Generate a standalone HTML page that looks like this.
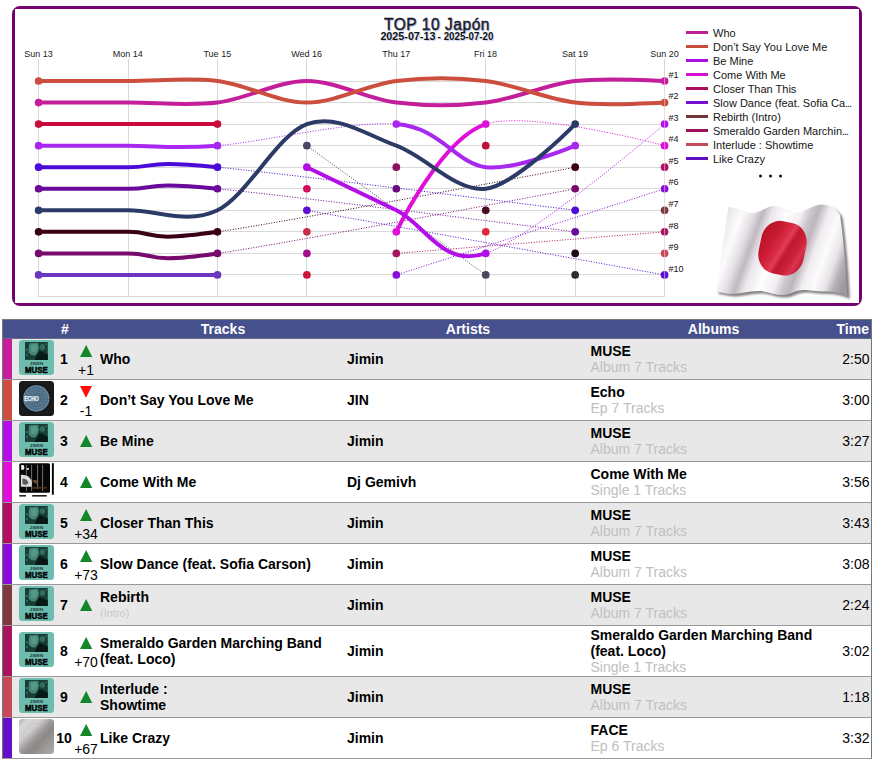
<!DOCTYPE html>
<html><head><meta charset="utf-8">
<style>
*{box-sizing:border-box}
html,body{margin:0;padding:0;background:#fff}
body{width:877px;height:767px;position:relative;overflow:hidden;font-family:"Liberation Sans",sans-serif;color:#000}
.abs{position:absolute}
svg{position:absolute;left:0;top:0;overflow:visible}
.lg{position:absolute;left:686px;font-size:11px;line-height:14px;color:#151515;white-space:nowrap}
.lg i{position:absolute;left:0;top:6px;width:22px;height:3px}
.lg span{position:absolute;left:27px;top:0.7px}
#tbl{position:absolute;left:2px;top:319px;width:870px;height:440px;border:1px solid #777;border-bottom:none}
#th{position:absolute;left:0;top:0;width:868px;height:19px;background:#45508c;border-bottom:1px solid #6a6a80;color:#fff;font-weight:bold;font-size:14px;line-height:18px}
#th div{position:absolute;top:0}
.row{position:absolute;left:0;width:868px;border-bottom:1px solid #999}
.row.g{background:#e8e8e8}
.row.w{background:#fff}
.st{position:absolute;left:0;top:0;bottom:0;width:9px}
.cv{position:absolute;left:16px;top:1px;width:35px;height:35px}
.rk{position:absolute;left:48.5px;width:25px;text-align:center;font-weight:bold;font-size:14px;line-height:16px}
.dl{position:absolute;left:68px;width:30px;text-align:center;font-size:14px;line-height:16px}
.tr{position:absolute;left:97px;font-weight:bold;font-size:14px;line-height:16px}
.ar{position:absolute;left:344px;font-weight:bold;font-size:14px;line-height:16px}
.al{position:absolute;left:587.5px;font-weight:bold;font-size:14px;line-height:16px}
.al span{font-weight:normal;color:#c0c0c0}
.tm{position:absolute;right:1.5px;font-size:14px;line-height:16px}
.sm{font-weight:normal;color:#c8c8c8;font-size:11px;line-height:16px}
</style></head>
<body>
<svg width="877" height="310" viewBox="0 0 877 310">
<path fill-rule="evenodd" fill="#720070" d="M20 6H854A8 8 0 0 1 862 14V298A8 8 0 0 1 854 306H20A8 8 0 0 1 12 298V14A8 8 0 0 1 20 6ZM15 9V303H859V9Z"/>
<path d="M38.5 59V297 M128.5 59V297 M217.5 59V297 M306.5 59V297 M396.5 59V297 M485.5 59V297 M575.5 59V297 M664.5 59V297 M38 81.5H665 M38 102.5H665 M38 124.5H665 M38 145.5H665 M38 167.5H665 M38 188.5H665 M38 210.5H665 M38 231.5H665 M38 253.5H665 M38 274.5H665 M38 296.5H665" stroke="#d9d9d9" stroke-width="1" fill="none"/>
<g fill="none" stroke-width="1" stroke-dasharray="1 1.6"><path d="M217.46 167.2C291.99 174.38 575.18 210.3 575.18 210.3" stroke="#4a0ad8"/><path d="M217.46 188.75C291.99 195.93 575.18 231.85 575.18 231.85" stroke="#6a0a9c"/><path d="M217.46 231.85C291.99 221.07 575.18 167.2 575.18 167.2" stroke="#3a0018"/><path d="M217.46 253.4C291.99 242.62 575.18 188.75 575.18 188.75" stroke="#780a6e"/><path d="M306.89 145.65C306.89 145.65 485.75 274.95 485.75 274.95" stroke="#4a4560"/><path d="M306.89 210.3C306.89 210.3 664.61 274.95 664.61 274.95" stroke="#5a10d0"/><path d="M396.32 253.4C396.32 253.4 664.61 231.85 664.61 231.85" stroke="#a8145e"/><path d="M396.32 274.95C396.32 274.95 664.61 188.75 664.61 188.75" stroke="#8a0ed8"/><path d="M485.75 124.1C530.47 109.73 664.61 145.65 664.61 145.65" stroke="#e00fd8"/><path d="M485.75 253.4C530.47 239.03 664.61 124.1 664.61 124.1" stroke="#b30ee8"/><path d="M217.46 145.65C262.18 142.06 351.61 120.51 396.32 124.1" stroke="#a828f0"/></g>
<g fill="none" stroke-width="4"><path d="M38.6 102.55C38.6 102.55 98.22 102.55 128.03 102.55C157.84 102.55 187.65 106.14 217.46 102.55C247.27 98.96 277.08 81 306.89 81C336.7 81 366.51 98.96 396.32 102.55C426.13 106.14 455.94 106.14 485.75 102.55C515.56 98.96 545.37 84.59 575.18 81C604.99 77.41 664.61 81 664.61 81" stroke="#c41e9a"/><path d="M38.6 81C38.6 81 98.22 81 128.03 81C157.84 81 187.65 77.41 217.46 81C247.27 84.59 277.08 102.55 306.89 102.55C336.7 102.55 366.51 84.59 396.32 81C426.13 77.41 455.94 77.41 485.75 81C515.56 84.59 545.37 98.96 575.18 102.55C604.99 106.14 664.61 102.55 664.61 102.55" stroke="#cc4e3e"/><path d="M38.6 124.1C38.6 124.1 98.22 124.1 128.03 124.1C157.84 124.1 217.46 124.1 217.46 124.1" stroke="#c80a3c"/><path d="M38.6 167.2C38.6 167.2 98.22 167.2 128.03 167.2C157.84 167.2 142.94 160.02 217.46 167.2" stroke="#4a0ad8"/><path d="M38.6 188.75C38.6 188.75 98.22 188.75 128.03 188.75C157.84 188.75 142.94 181.57 217.46 188.75" stroke="#6a0a9c"/><path d="M38.6 231.85C38.6 231.85 98.22 231.85 128.03 231.85C157.84 231.85 142.94 242.62 217.46 231.85" stroke="#3a0018"/><path d="M38.6 253.4C38.6 253.4 98.22 253.4 128.03 253.4C157.84 253.4 142.94 264.18 217.46 253.4" stroke="#780a6e"/><path d="M38.6 274.95C38.6 274.95 98.22 274.95 128.03 274.95C157.84 274.95 217.46 274.95 217.46 274.95" stroke="#6a38c0"/><path d="M396.32 231.85C396.32 231.85 441.04 138.47 485.75 124.1" stroke="#e00fd8"/><path d="M306.89 167.2C306.89 167.2 366.51 195.93 396.32 210.3C426.13 224.67 441.04 267.77 485.75 253.4" stroke="#b30ee8"/><path d="M38.6 145.65C38.6 145.65 98.22 145.65 128.03 145.65C157.84 145.65 172.75 149.24 217.46 145.65" stroke="#a828f0"/><path d="M396.32 124.1C441.04 127.69 455.94 163.61 485.75 167.2C515.56 170.79 575.18 145.65 575.18 145.65" stroke="#a828f0"/><path d="M38.6 210.3C38.6 210.3 98.22 210.3 128.03 210.3C157.84 210.3 187.65 224.67 217.46 210.3C247.27 195.93 277.08 134.88 306.89 124.1C336.7 113.32 366.51 134.88 396.32 145.65C426.13 156.43 455.94 192.34 485.75 188.75C515.56 185.16 575.18 124.1 575.18 124.1" stroke="#2c3a68"/></g>
<g><circle cx="38.6" cy="102.55" r="3.85" fill="#c41e9a"/><circle cx="664.61" cy="81" r="3.85" fill="#c41e9a"/><circle cx="38.6" cy="81" r="3.85" fill="#cc4e3e"/><circle cx="664.61" cy="102.55" r="3.85" fill="#cc4e3e"/><circle cx="38.6" cy="124.1" r="3.85" fill="#c80a3c"/><circle cx="217.46" cy="124.1" r="3.85" fill="#c80a3c"/><circle cx="38.6" cy="167.2" r="3.85" fill="#4a0ad8"/><circle cx="217.46" cy="167.2" r="3.85" fill="#4a0ad8"/><circle cx="575.18" cy="210.3" r="3.85" fill="#4a0ad8"/><circle cx="38.6" cy="188.75" r="3.85" fill="#6a0a9c"/><circle cx="217.46" cy="188.75" r="3.85" fill="#6a0a9c"/><circle cx="575.18" cy="231.85" r="3.85" fill="#6a0a9c"/><circle cx="38.6" cy="231.85" r="3.85" fill="#3a0018"/><circle cx="217.46" cy="231.85" r="3.85" fill="#3a0018"/><circle cx="575.18" cy="167.2" r="3.85" fill="#3a0018"/><circle cx="38.6" cy="253.4" r="3.85" fill="#780a6e"/><circle cx="217.46" cy="253.4" r="3.85" fill="#780a6e"/><circle cx="575.18" cy="188.75" r="3.85" fill="#780a6e"/><circle cx="38.6" cy="274.95" r="3.85" fill="#6a38c0"/><circle cx="217.46" cy="274.95" r="3.85" fill="#6a38c0"/><circle cx="306.89" cy="145.65" r="3.85" fill="#4a4560"/><circle cx="485.75" cy="274.95" r="3.85" fill="#4a4560"/><circle cx="306.89" cy="188.75" r="3.85" fill="#d0105a"/><circle cx="306.89" cy="210.3" r="3.85" fill="#5a10d0"/><circle cx="664.61" cy="274.95" r="3.85" fill="#5a10d0"/><circle cx="306.89" cy="231.85" r="3.85" fill="#c8304a"/><circle cx="306.89" cy="253.4" r="3.85" fill="#a0108a"/><circle cx="306.89" cy="274.95" r="3.85" fill="#c8183a"/><circle cx="396.32" cy="167.2" r="3.85" fill="#8b1060"/><circle cx="396.32" cy="188.75" r="3.85" fill="#6a0a80"/><circle cx="396.32" cy="253.4" r="3.85" fill="#a8145e"/><circle cx="664.61" cy="231.85" r="3.85" fill="#a8145e"/><circle cx="396.32" cy="274.95" r="3.85" fill="#8a0ed8"/><circle cx="664.61" cy="188.75" r="3.85" fill="#8a0ed8"/><circle cx="485.75" cy="145.65" r="3.85" fill="#c0103a"/><circle cx="485.75" cy="210.3" r="3.85" fill="#4a0a20"/><circle cx="485.75" cy="231.85" r="3.85" fill="#e02a3a"/><circle cx="575.18" cy="253.4" r="3.85" fill="#1e0a18"/><circle cx="575.18" cy="274.95" r="3.85" fill="#2a302a"/><circle cx="664.61" cy="167.2" r="3.85" fill="#b40e62"/><circle cx="664.61" cy="210.3" r="3.85" fill="#7e3a3e"/><circle cx="664.61" cy="253.4" r="3.85" fill="#c84a5a"/><circle cx="396.32" cy="231.85" r="3.85" fill="#e00fd8"/><circle cx="485.75" cy="124.1" r="3.85" fill="#e00fd8"/><circle cx="664.61" cy="145.65" r="3.85" fill="#e00fd8"/><circle cx="306.89" cy="167.2" r="3.85" fill="#b30ee8"/><circle cx="485.75" cy="253.4" r="3.85" fill="#b30ee8"/><circle cx="664.61" cy="124.1" r="3.85" fill="#b30ee8"/><circle cx="38.6" cy="145.65" r="3.85" fill="#a828f0"/><circle cx="217.46" cy="145.65" r="3.85" fill="#a828f0"/><circle cx="396.32" cy="124.1" r="3.85" fill="#a828f0"/><circle cx="575.18" cy="145.65" r="3.85" fill="#a828f0"/><circle cx="38.6" cy="210.3" r="3.85" fill="#2c3a68"/><circle cx="575.18" cy="124.1" r="3.85" fill="#2c3a68"/></g>
<path d="M664.61 77V280" stroke="#f4e8f0" stroke-width="0.8" opacity="0.7"/>
<g font-size="9" fill="#222" text-anchor="middle">
<text x="38.4" y="56.6">Sun 13</text><text x="127.8" y="56.6">Mon 14</text><text x="217.3" y="56.6">Tue 15</text><text x="306.7" y="56.6">Wed 16</text><text x="396.2" y="56.6">Thu 17</text><text x="485.6" y="56.6">Fri 18</text><text x="575" y="56.6">Sat 19</text><text x="664.5" y="56.6">Sun 20</text>
</g>
<g font-size="9" fill="#111">
<text x="668.6" y="77.7">#1</text><text x="668.6" y="99.2">#2</text><text x="668.6" y="120.8">#3</text><text x="668.6" y="142.3">#4</text><text x="668.6" y="163.9">#5</text><text x="668.6" y="185.4">#6</text><text x="668.6" y="207">#7</text><text x="668.6" y="228.5">#8</text><text x="668.6" y="250.1">#9</text><text x="668.6" y="271.6">#10</text>
</g>
<g fill="#111" style="text-shadow:1px 1px 1px rgba(110,140,220,.45)">
<text x="384" y="29.9" font-size="15.6" stroke="#111" stroke-width="0.4" textLength="105.5" lengthAdjust="spacing">TOP 10 Japón</text>
<g font-size="10" font-weight="bold"><text x="380.4" y="40" textLength="55" lengthAdjust="spacingAndGlyphs">2025-07-13</text><text x="437.6" y="40">-</text><text x="443.7" y="40" textLength="49.7" lengthAdjust="spacingAndGlyphs">2025-07-20</text></g>
</g>
<g fill="#111"><circle cx="760.5" cy="176" r="1.5"/><circle cx="770.5" cy="176" r="1.5"/><circle cx="780.5" cy="176" r="1.5"/></g>
<defs>
<linearGradient id="fw" x1="712" y1="0" x2="852" y2="0" gradientUnits="userSpaceOnUse" gradientTransform="rotate(20 780 250)">
<stop offset="0" stop-color="#d2ccd2"/><stop offset=".06" stop-color="#eee9ee"/><stop offset=".14" stop-color="#fcfcfc"/><stop offset=".22" stop-color="#e4dee4"/><stop offset=".28" stop-color="#bfb8bf"/><stop offset=".34" stop-color="#ebe6eb"/><stop offset=".44" stop-color="#fefefe"/><stop offset=".54" stop-color="#f2eef2"/><stop offset=".6" stop-color="#ccc5cc"/><stop offset=".65" stop-color="#bcb5bc"/><stop offset=".72" stop-color="#f0ecf0"/><stop offset=".8" stop-color="#fcfcfc"/><stop offset=".88" stop-color="#e8e3e8"/><stop offset=".94" stop-color="#b6b0b6"/><stop offset="1" stop-color="#9e989e"/>
</linearGradient>
<linearGradient id="fr" x1="756" y1="0" x2="808" y2="0" gradientUnits="userSpaceOnUse" gradientTransform="rotate(20 780 250)">
<stop offset="0" stop-color="#b81428"/><stop offset=".25" stop-color="#c81a32"/><stop offset=".42" stop-color="#d82a44"/><stop offset=".5" stop-color="#e23c56"/><stop offset=".6" stop-color="#c01830"/><stop offset=".75" stop-color="#cc2038"/><stop offset=".86" stop-color="#da3450"/><stop offset="1" stop-color="#bc162e"/>
</linearGradient>
<filter id="fsh" x="-10%" y="-10%" width="130%" height="130%"><feGaussianBlur stdDeviation="1.3"/></filter>
</defs>
<path transform="translate(2.6 2.4)" d="M728.4 206.9C737 208 744 213 751 213C760 213 767 206 774 206C782 206 787 213 795 213C803 213 812 205 821 204.5C830 204.5 836 208 840 215C843 235 846 265 847.3 296.3C840 293 833 291.5 825 291.5C815 291.5 810 290 804 290C795 290 790 295 783 295C772 295 768 291 759 291C748 291 741 294 732 294C726 294 720 292 716 291.7Z" fill="#555" opacity=".75" filter="url(#fsh)"/>
<path d="M728.4 206.9C737 208 744 213 751 213C760 213 767 206 774 206C782 206 787 213 795 213C803 213 812 205 821 204.5C830 204.5 836 208 840 215C843 235 846 265 847.3 296.3C840 293 833 291.5 825 291.5C815 291.5 810 290 804 290C795 290 790 295 783 295C772 295 768 291 759 291C748 291 741 294 732 294C726 294 720 292 716 291.7Z" fill="url(#fw)"/>
<rect x="759.6" y="221.6" width="45.8" height="53.2" rx="18" ry="20" transform="rotate(12 782.5 248.2)" fill="url(#fr)"/>
</svg>
<div class="lg" style="top:25px"><i style="background:#bc1e96"></i><span>Who</span></div>
<div class="lg" style="top:39px"><i style="background:#c64c3e"></i><span>Don’t Say You Love Me</span></div>
<div class="lg" style="top:53px"><i style="background:#a80ee0"></i><span>Be Mine</span></div>
<div class="lg" style="top:67px"><i style="background:#d60fd2"></i><span>Come With Me</span></div>
<div class="lg" style="top:81px"><i style="background:#a80e5e"></i><span>Closer Than This</span></div>
<div class="lg" style="top:95px"><i style="background:#7a0ed0"></i><span>Slow Dance (feat. Sofia Ca<b style="font-weight:normal;letter-spacing:-1.1px">...</b></span></div>
<div class="lg" style="top:109px"><i style="background:#74343a"></i><span>Rebirth (Intro)</span></div>
<div class="lg" style="top:123px"><i style="background:#9c125a"></i><span>Smeraldo Garden Marchin<b style="font-weight:normal;letter-spacing:-1.1px">...</b></span></div>
<div class="lg" style="top:137px"><i style="background:#c24a5c"></i><span>Interlude : Showtime</span></div>
<div class="lg" style="top:151px"><i style="background:#5e10c0"></i><span>Like Crazy</span></div>

<div id="tbl">
<div id="th">
<div style="left:52px;width:20px;text-align:center">#</div>
<div style="left:97px;width:246px;text-align:center">Tracks</div>
<div style="left:343px;width:244px;text-align:center">Artists</div>
<div style="left:587px;width:247px;text-align:center">Albums</div>
<div style="right:2px">Time</div>
</div>
<div class="row g" style="top:19px;height:41px"><div class="st" style="background:#c41e9a"></div><svg class="cv" style="top:1px" width="35" height="35" viewBox="0 0 35 35"><rect width="35" height="35" rx="3.5" fill="#6cbdaf"/><rect x="6" y="2" width="22.8" height="17.9" fill="#173d35"/><path d="M10.5 3.2L19 2.8L20.2 7.5L18.8 12L16.2 15.5L12.5 15.2L9.6 12.2L9.8 6.5z" fill="#4d9282" opacity=".85"/><path d="M12 5l5-1l1.5 4l-2 4l-4 0z" fill="#62a898" opacity=".55"/><ellipse cx="23.5" cy="7" rx="2.6" ry="3" fill="#3a786a" opacity=".8"/><path d="M6.5 9h2.5v2h-2.5zM7 14h2v2h-2zM26 3.5h2v1.5h-2z" fill="#3a7668" opacity=".7"/><path d="M15.5 19.9L20.5 11L28.8 14.5V19.9z" fill="#061915"/><text x="17.4" y="24.7" font-size="3.7" font-weight="bold" text-anchor="middle" fill="#24403a" textLength="13.6" lengthAdjust="spacingAndGlyphs">JIMIN</text><text x="17.4" y="32.9" font-size="8.8" font-weight="bold" text-anchor="middle" fill="#050505" stroke="#050505" stroke-width=".55" textLength="22.6" lengthAdjust="spacingAndGlyphs">MUSE</text></svg><div class="rk" style="display:flex;align-items:center;top:0;height:40px;justify-content:center">1</div><svg class="abs" style="left:76.8px;top:6.0px" width="13" height="12" viewBox="0 0 13 12"><path d="M6.15 0L12.3 12H0z" fill="#13882a"/></svg><div class="dl" style="top:23.0px">+1</div><div class="tr" style="display:flex;align-items:center;top:0;height:40px"><div>Who</div></div><div class="ar" style="display:flex;align-items:center;top:0;height:40px">Jimin</div><div class="al" style="display:flex;align-items:center;top:0;height:40px"><div>MUSE<br><span>Album 7 Tracks</span></div></div><div class="tm" style="display:flex;align-items:center;top:0;height:40px">2:50</div></div>
<div class="row w" style="top:60px;height:41px"><div class="st" style="background:#cc4e3e"></div><svg class="cv" style="top:1px" width="35" height="35" viewBox="0 0 35 35"><rect width="35" height="35" rx="3.5" fill="#1a1a1a"/><circle cx="17.3" cy="17.4" r="14.2" fill="#0e0e10"/><circle cx="17.3" cy="17.4" r="13.3" fill="#4d6c85"/><circle cx="17.3" cy="17.4" r="12.3" fill="none" stroke="#9ab8ce" stroke-width="1.5" stroke-dasharray="0.7 1.1" opacity=".7"/><circle cx="17.3" cy="17.4" r="9.5" fill="none" stroke="#8eaac0" stroke-width="1.4" stroke-dasharray="0.7 1.1" opacity=".55"/><circle cx="17.3" cy="17.4" r="6.5" fill="none" stroke="#8eaac0" stroke-width="1.3" stroke-dasharray="0.7 1.1" opacity=".45"/><text x="5.2" y="20.3" font-size="6.4" font-weight="bold" fill="#eef4f8" stroke="#eef4f8" stroke-width=".25" textLength="14.6" lengthAdjust="spacingAndGlyphs">ECHO</text></svg><div class="rk" style="display:flex;align-items:center;top:0;height:40px;justify-content:center">2</div><svg class="abs" style="left:76.8px;top:6.0px" width="13" height="12" viewBox="0 0 13 12"><path d="M0 0H12L6 11.7z" fill="#fe0d0d"/></svg><div class="dl" style="top:23.0px">-1</div><div class="tr" style="display:flex;align-items:center;top:0;height:40px"><div>Don’t Say You Love Me</div></div><div class="ar" style="display:flex;align-items:center;top:0;height:40px">JIN</div><div class="al" style="display:flex;align-items:center;top:0;height:40px"><div>Echo<br><span>Ep 7 Tracks</span></div></div><div class="tm" style="display:flex;align-items:center;top:0;height:40px">3:00</div></div>
<div class="row g" style="top:101px;height:41px"><div class="st" style="background:#b30ee8"></div><svg class="cv" style="top:1px" width="35" height="35" viewBox="0 0 35 35"><rect width="35" height="35" rx="3.5" fill="#6cbdaf"/><rect x="6" y="2" width="22.8" height="17.9" fill="#173d35"/><path d="M10.5 3.2L19 2.8L20.2 7.5L18.8 12L16.2 15.5L12.5 15.2L9.6 12.2L9.8 6.5z" fill="#4d9282" opacity=".85"/><path d="M12 5l5-1l1.5 4l-2 4l-4 0z" fill="#62a898" opacity=".55"/><ellipse cx="23.5" cy="7" rx="2.6" ry="3" fill="#3a786a" opacity=".8"/><path d="M6.5 9h2.5v2h-2.5zM7 14h2v2h-2zM26 3.5h2v1.5h-2z" fill="#3a7668" opacity=".7"/><path d="M15.5 19.9L20.5 11L28.8 14.5V19.9z" fill="#061915"/><text x="17.4" y="24.7" font-size="3.7" font-weight="bold" text-anchor="middle" fill="#24403a" textLength="13.6" lengthAdjust="spacingAndGlyphs">JIMIN</text><text x="17.4" y="32.9" font-size="8.8" font-weight="bold" text-anchor="middle" fill="#050505" stroke="#050505" stroke-width=".55" textLength="22.6" lengthAdjust="spacingAndGlyphs">MUSE</text></svg><div class="rk" style="display:flex;align-items:center;top:0;height:40px;justify-content:center">3</div><svg class="abs" style="left:76.8px;top:14.0px" width="13" height="12" viewBox="0 0 13 12"><path d="M6.15 0L12.3 12H0z" fill="#13882a"/></svg><div class="tr" style="display:flex;align-items:center;top:0;height:40px"><div>Be Mine</div></div><div class="ar" style="display:flex;align-items:center;top:0;height:40px">Jimin</div><div class="al" style="display:flex;align-items:center;top:0;height:40px"><div>MUSE<br><span>Album 7 Tracks</span></div></div><div class="tm" style="display:flex;align-items:center;top:0;height:40px">3:27</div></div>
<div class="row w" style="top:142px;height:41px"><div class="st" style="background:#e00fd8"></div><svg class="cv" style="top:1px" width="35" height="35" viewBox="0 0 35 35"><rect x="0.3" y="0.2" width="30.7" height="29.6" rx="1.5" fill="#060606"/><path d="M7.4 1.8v26.3M12.6 1.8v26.3M18.6 1.8v24M23.6 1.8v26.3" stroke="#8c8c8c" stroke-width=".8"/><path d="M2.2 2.1h1.6c1.2 0 1.5 1 1.5 2.35s-.3 2.35-1.5 2.35h-1.6z" fill="#f2f2f2"/><path d="M7.6 5h2.4v1.8h-2.4z" fill="#e8c8c8"/><path d="M1.9 12c4.5-0.8 8.5 1.5 10.6 5.5c0.6 2 0.4 4.2 0.2 6.2h-10.8z" fill="#dcdcdc"/><path d="M3.5 15.5c3 0 5.5 2 6 4.5l-2.5 2l-3.5-1z" fill="#5a5a5a"/><path d="M13.4 23.8h14.3v2h-14.3z" fill="#5a3a20" opacity=".7"/><path d="M13 18c2.5-1.5 5-1 6.5 0.5l-2.5 2.5z" fill="#6a4a30"/><rect x="32.9" y="0.2" width="1.9" height="31.5" fill="#000"/><rect x="0.3" y="32" width="6.6" height="1.6" fill="#222"/><rect x="13.2" y="32" width="14.5" height="1.6" fill="#222"/></svg><div class="rk" style="display:flex;align-items:center;top:0;height:40px;justify-content:center">4</div><svg class="abs" style="left:76.8px;top:14.0px" width="13" height="12" viewBox="0 0 13 12"><path d="M6.15 0L12.3 12H0z" fill="#13882a"/></svg><div class="tr" style="display:flex;align-items:center;top:0;height:40px"><div>Come With Me</div></div><div class="ar" style="display:flex;align-items:center;top:0;height:40px">Dj Gemivh</div><div class="al" style="display:flex;align-items:center;top:0;height:40px"><div>Come With Me<br><span>Single 1 Tracks</span></div></div><div class="tm" style="display:flex;align-items:center;top:0;height:40px">3:56</div></div>
<div class="row g" style="top:183px;height:41px"><div class="st" style="background:#b40e62"></div><svg class="cv" style="top:1px" width="35" height="35" viewBox="0 0 35 35"><rect width="35" height="35" rx="3.5" fill="#6cbdaf"/><rect x="6" y="2" width="22.8" height="17.9" fill="#173d35"/><path d="M10.5 3.2L19 2.8L20.2 7.5L18.8 12L16.2 15.5L12.5 15.2L9.6 12.2L9.8 6.5z" fill="#4d9282" opacity=".85"/><path d="M12 5l5-1l1.5 4l-2 4l-4 0z" fill="#62a898" opacity=".55"/><ellipse cx="23.5" cy="7" rx="2.6" ry="3" fill="#3a786a" opacity=".8"/><path d="M6.5 9h2.5v2h-2.5zM7 14h2v2h-2zM26 3.5h2v1.5h-2z" fill="#3a7668" opacity=".7"/><path d="M15.5 19.9L20.5 11L28.8 14.5V19.9z" fill="#061915"/><text x="17.4" y="24.7" font-size="3.7" font-weight="bold" text-anchor="middle" fill="#24403a" textLength="13.6" lengthAdjust="spacingAndGlyphs">JIMIN</text><text x="17.4" y="32.9" font-size="8.8" font-weight="bold" text-anchor="middle" fill="#050505" stroke="#050505" stroke-width=".55" textLength="22.6" lengthAdjust="spacingAndGlyphs">MUSE</text></svg><div class="rk" style="display:flex;align-items:center;top:0;height:40px;justify-content:center">5</div><svg class="abs" style="left:76.8px;top:6.0px" width="13" height="12" viewBox="0 0 13 12"><path d="M6.15 0L12.3 12H0z" fill="#13882a"/></svg><div class="dl" style="top:23.0px">+34</div><div class="tr" style="display:flex;align-items:center;top:0;height:40px"><div>Closer Than This</div></div><div class="ar" style="display:flex;align-items:center;top:0;height:40px">Jimin</div><div class="al" style="display:flex;align-items:center;top:0;height:40px"><div>MUSE<br><span>Album 7 Tracks</span></div></div><div class="tm" style="display:flex;align-items:center;top:0;height:40px">3:43</div></div>
<div class="row w" style="top:224px;height:41px"><div class="st" style="background:#8a0ed8"></div><svg class="cv" style="top:1px" width="35" height="35" viewBox="0 0 35 35"><rect width="35" height="35" rx="3.5" fill="#6cbdaf"/><rect x="6" y="2" width="22.8" height="17.9" fill="#173d35"/><path d="M10.5 3.2L19 2.8L20.2 7.5L18.8 12L16.2 15.5L12.5 15.2L9.6 12.2L9.8 6.5z" fill="#4d9282" opacity=".85"/><path d="M12 5l5-1l1.5 4l-2 4l-4 0z" fill="#62a898" opacity=".55"/><ellipse cx="23.5" cy="7" rx="2.6" ry="3" fill="#3a786a" opacity=".8"/><path d="M6.5 9h2.5v2h-2.5zM7 14h2v2h-2zM26 3.5h2v1.5h-2z" fill="#3a7668" opacity=".7"/><path d="M15.5 19.9L20.5 11L28.8 14.5V19.9z" fill="#061915"/><text x="17.4" y="24.7" font-size="3.7" font-weight="bold" text-anchor="middle" fill="#24403a" textLength="13.6" lengthAdjust="spacingAndGlyphs">JIMIN</text><text x="17.4" y="32.9" font-size="8.8" font-weight="bold" text-anchor="middle" fill="#050505" stroke="#050505" stroke-width=".55" textLength="22.6" lengthAdjust="spacingAndGlyphs">MUSE</text></svg><div class="rk" style="display:flex;align-items:center;top:0;height:40px;justify-content:center">6</div><svg class="abs" style="left:76.8px;top:6.0px" width="13" height="12" viewBox="0 0 13 12"><path d="M6.15 0L12.3 12H0z" fill="#13882a"/></svg><div class="dl" style="top:23.0px">+73</div><div class="tr" style="display:flex;align-items:center;top:0;height:40px"><div>Slow Dance (feat. Sofia Carson)</div></div><div class="ar" style="display:flex;align-items:center;top:0;height:40px">Jimin</div><div class="al" style="display:flex;align-items:center;top:0;height:40px"><div>MUSE<br><span>Album 7 Tracks</span></div></div><div class="tm" style="display:flex;align-items:center;top:0;height:40px">3:08</div></div>
<div class="row g" style="top:265px;height:41px"><div class="st" style="background:#7e3a3e"></div><svg class="cv" style="top:1px" width="35" height="35" viewBox="0 0 35 35"><rect width="35" height="35" rx="3.5" fill="#6cbdaf"/><rect x="6" y="2" width="22.8" height="17.9" fill="#173d35"/><path d="M10.5 3.2L19 2.8L20.2 7.5L18.8 12L16.2 15.5L12.5 15.2L9.6 12.2L9.8 6.5z" fill="#4d9282" opacity=".85"/><path d="M12 5l5-1l1.5 4l-2 4l-4 0z" fill="#62a898" opacity=".55"/><ellipse cx="23.5" cy="7" rx="2.6" ry="3" fill="#3a786a" opacity=".8"/><path d="M6.5 9h2.5v2h-2.5zM7 14h2v2h-2zM26 3.5h2v1.5h-2z" fill="#3a7668" opacity=".7"/><path d="M15.5 19.9L20.5 11L28.8 14.5V19.9z" fill="#061915"/><text x="17.4" y="24.7" font-size="3.7" font-weight="bold" text-anchor="middle" fill="#24403a" textLength="13.6" lengthAdjust="spacingAndGlyphs">JIMIN</text><text x="17.4" y="32.9" font-size="8.8" font-weight="bold" text-anchor="middle" fill="#050505" stroke="#050505" stroke-width=".55" textLength="22.6" lengthAdjust="spacingAndGlyphs">MUSE</text></svg><div class="rk" style="display:flex;align-items:center;top:0;height:40px;justify-content:center">7</div><svg class="abs" style="left:76.8px;top:14.0px" width="13" height="12" viewBox="0 0 13 12"><path d="M6.15 0L12.3 12H0z" fill="#13882a"/></svg><div class="tr" style="display:flex;align-items:center;top:0;height:40px"><div>Rebirth<div class="sm">(Intro)</div></div></div><div class="ar" style="display:flex;align-items:center;top:0;height:40px">Jimin</div><div class="al" style="display:flex;align-items:center;top:0;height:40px"><div>MUSE<br><span>Album 7 Tracks</span></div></div><div class="tm" style="display:flex;align-items:center;top:0;height:40px">2:24</div></div>
<div class="row w" style="top:306px;height:51px"><div class="st" style="background:#a8145e"></div><svg class="cv" style="top:6px" width="35" height="35" viewBox="0 0 35 35"><rect width="35" height="35" rx="3.5" fill="#6cbdaf"/><rect x="6" y="2" width="22.8" height="17.9" fill="#173d35"/><path d="M10.5 3.2L19 2.8L20.2 7.5L18.8 12L16.2 15.5L12.5 15.2L9.6 12.2L9.8 6.5z" fill="#4d9282" opacity=".85"/><path d="M12 5l5-1l1.5 4l-2 4l-4 0z" fill="#62a898" opacity=".55"/><ellipse cx="23.5" cy="7" rx="2.6" ry="3" fill="#3a786a" opacity=".8"/><path d="M6.5 9h2.5v2h-2.5zM7 14h2v2h-2zM26 3.5h2v1.5h-2z" fill="#3a7668" opacity=".7"/><path d="M15.5 19.9L20.5 11L28.8 14.5V19.9z" fill="#061915"/><text x="17.4" y="24.7" font-size="3.7" font-weight="bold" text-anchor="middle" fill="#24403a" textLength="13.6" lengthAdjust="spacingAndGlyphs">JIMIN</text><text x="17.4" y="32.9" font-size="8.8" font-weight="bold" text-anchor="middle" fill="#050505" stroke="#050505" stroke-width=".55" textLength="22.6" lengthAdjust="spacingAndGlyphs">MUSE</text></svg><div class="rk" style="display:flex;align-items:center;top:0;height:50px;justify-content:center">8</div><svg class="abs" style="left:76.8px;top:11.0px" width="13" height="12" viewBox="0 0 13 12"><path d="M6.15 0L12.3 12H0z" fill="#13882a"/></svg><div class="dl" style="top:28.0px">+70</div><div class="tr" style="display:flex;align-items:center;top:0;height:50px"><div>Smeraldo Garden Marching Band<br>(feat. Loco)</div></div><div class="ar" style="display:flex;align-items:center;top:0;height:50px">Jimin</div><div class="al" style="display:flex;align-items:center;top:0;height:50px"><div>Smeraldo Garden Marching Band<br>(feat. Loco)<br><span>Single 1 Tracks</span></div></div><div class="tm" style="display:flex;align-items:center;top:0;height:50px">3:02</div></div>
<div class="row g" style="top:357px;height:41px"><div class="st" style="background:#c84a5a"></div><svg class="cv" style="top:1px" width="35" height="35" viewBox="0 0 35 35"><rect width="35" height="35" rx="3.5" fill="#6cbdaf"/><rect x="6" y="2" width="22.8" height="17.9" fill="#173d35"/><path d="M10.5 3.2L19 2.8L20.2 7.5L18.8 12L16.2 15.5L12.5 15.2L9.6 12.2L9.8 6.5z" fill="#4d9282" opacity=".85"/><path d="M12 5l5-1l1.5 4l-2 4l-4 0z" fill="#62a898" opacity=".55"/><ellipse cx="23.5" cy="7" rx="2.6" ry="3" fill="#3a786a" opacity=".8"/><path d="M6.5 9h2.5v2h-2.5zM7 14h2v2h-2zM26 3.5h2v1.5h-2z" fill="#3a7668" opacity=".7"/><path d="M15.5 19.9L20.5 11L28.8 14.5V19.9z" fill="#061915"/><text x="17.4" y="24.7" font-size="3.7" font-weight="bold" text-anchor="middle" fill="#24403a" textLength="13.6" lengthAdjust="spacingAndGlyphs">JIMIN</text><text x="17.4" y="32.9" font-size="8.8" font-weight="bold" text-anchor="middle" fill="#050505" stroke="#050505" stroke-width=".55" textLength="22.6" lengthAdjust="spacingAndGlyphs">MUSE</text></svg><div class="rk" style="display:flex;align-items:center;top:0;height:40px;justify-content:center">9</div><svg class="abs" style="left:76.8px;top:14.0px" width="13" height="12" viewBox="0 0 13 12"><path d="M6.15 0L12.3 12H0z" fill="#13882a"/></svg><div class="tr" style="display:flex;align-items:center;top:0;height:40px"><div>Interlude :<br>Showtime</div></div><div class="ar" style="display:flex;align-items:center;top:0;height:40px">Jimin</div><div class="al" style="display:flex;align-items:center;top:0;height:40px"><div>MUSE<br><span>Album 7 Tracks</span></div></div><div class="tm" style="display:flex;align-items:center;top:0;height:40px">1:18</div></div>
<div class="row w" style="top:398px;height:41px"><div class="st" style="background:#6410c8"></div><svg class="cv" style="top:1px" width="35" height="35" viewBox="0 0 35 35"><defs><linearGradient id="fg9" x1="0" y1="0" x2="1" y2="1"><stop offset="0" stop-color="#aeacac"/><stop offset=".14" stop-color="#d6d6d6"/><stop offset=".33" stop-color="#cfcdcd"/><stop offset=".5" stop-color="#9c9898"/><stop offset=".62" stop-color="#8c8888"/><stop offset=".8" stop-color="#9e9a9a"/><stop offset="1" stop-color="#aeaaaa"/></linearGradient></defs><rect width="35" height="35" rx="3.5" fill="url(#fg9)"/><circle cx="17.5" cy="17.5" r="13" fill="none" stroke="#8a8888" stroke-width=".4" stroke-dasharray="1 1" opacity=".6"/></svg><div class="rk" style="display:flex;align-items:center;top:0;height:40px;justify-content:center">10</div><svg class="abs" style="left:76.8px;top:6.0px" width="13" height="12" viewBox="0 0 13 12"><path d="M6.15 0L12.3 12H0z" fill="#13882a"/></svg><div class="dl" style="top:23.0px">+67</div><div class="tr" style="display:flex;align-items:center;top:0;height:40px"><div>Like Crazy</div></div><div class="ar" style="display:flex;align-items:center;top:0;height:40px">Jimin</div><div class="al" style="display:flex;align-items:center;top:0;height:40px"><div>FACE<br><span>Ep 6 Tracks</span></div></div><div class="tm" style="display:flex;align-items:center;top:0;height:40px">3:32</div></div>
</div>
</body></html>
